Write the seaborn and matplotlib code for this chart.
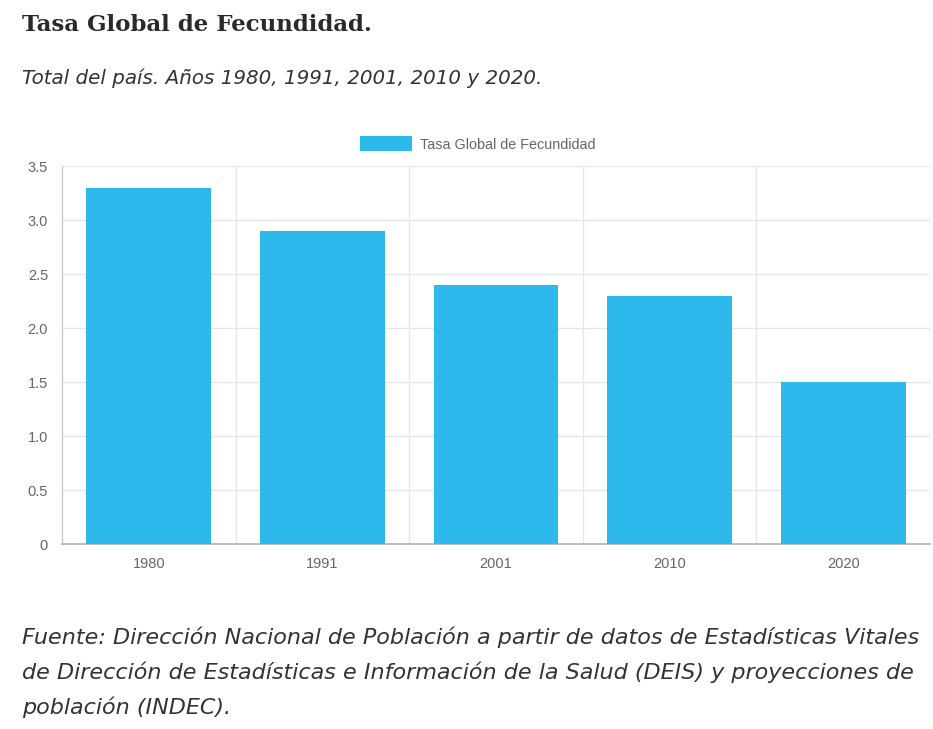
import matplotlib
matplotlib.use('Agg')
import matplotlib.pyplot as plt
import seaborn as sns
import pandas as pd

# data
years = ['1980', '1991', '2001', '2010', '2020']
tgf = [3.3, 2.9, 2.4, 2.3, 1.5]
series_name = 'Tasa Global de Fecundidad'
ytick_vals = [0, 0.5, 1.0, 1.5, 2.0, 2.5, 3.0, 3.5]
ytick_labels = ['0', '0.5', '1.0', '1.5', '2.0', '2.5', '3.0', '3.5']

title = 'Tasa Global de Fecundidad.'
subtitle = 'Total del país. Años 1980, 1991, 2001, 2010 y 2020.'
source = ('Fuente: Dirección Nacional de Población a partir de datos de Estadísticas Vitales\n'
          'de Dirección de Estadísticas e Información de la Salud (DEIS) y proyecciones de\n'
          'población (INDEC).')

df = pd.DataFrame({'year': years, 'tgf': tgf})

sns.set_style('white')
plt.rcParams['font.family'] = ['Liberation Sans', 'DejaVu Sans']

fig = plt.figure(figsize=(9.33, 7.29), dpi=100)
ax = fig.add_axes([62 / 933, 1 - 544 / 729, 868 / 933, 378 / 729])

bar_color = '#2EB9EC'
sns.barplot(data=df, x='year', y='tgf', color=bar_color, width=0.72, saturation=1,
            linewidth=0, label=series_name, ax=ax, zorder=3)

ax.set_xlim(-0.5, 4.5)
ax.set_ylim(0, 3.5)
ax.set_yticks(ytick_vals)
ax.set_yticklabels(ytick_labels)
ax.set_xticks(range(len(years)))
ax.set_xticklabels(years)
ax.set_xticks([i - 0.5 for i in range(len(years) + 1)], minor=True)
ax.set_xlabel('')
ax.set_ylabel('')

ax.grid(axis='y', color='#e6e6e6', linewidth=1, zorder=0)
ax.grid(axis='x', which='minor', color='#e6e6e6', linewidth=1, zorder=0)
ax.grid(axis='x', which='major', visible=False)

ax.tick_params(axis='x', which='major', length=0, pad=9, labelsize=10.5, labelcolor='#666666')
ax.tick_params(axis='x', which='minor', length=10, color='#e6e6e6', width=1)
ax.tick_params(axis='y', length=7, color='#e6e6e6', width=1, pad=3, labelsize=10.5, labelcolor='#666666')

for side in ['top', 'right']:
    ax.spines[side].set_visible(False)
ax.spines['left'].set_color('#c8c8c8')
ax.spines['bottom'].set_color('#b0b0b0')
ax.spines['bottom'].set_linewidth(1.2)

ax.legend(loc='lower center', bbox_to_anchor=(0.479, 1.0), frameon=False,
          handlelength=3.6, handleheight=1.2, handletextpad=0.6,
          fontsize=10.4, labelcolor='#666666', borderaxespad=0.6)

fig.text(22 / 933, 1 - 25 / 729, title, family=['DejaVu Serif'],
         weight='bold', fontsize=16.5, color='#2a2a2a', va='center', ha='left')
fig.text(22 / 933, 1 - 78 / 729, subtitle, family=['DejaVu Sans'],
         style='italic', fontsize=14.3, color='#333333', va='center', ha='left')
fig.text(22 / 933, 1 - 672 / 729, source, family=['DejaVu Sans'],
         style='italic', fontsize=16.0, color='#333333', va='center', ha='left',
         linespacing=1.76)

fig.savefig('out.png', dpi=100, facecolor='white')
